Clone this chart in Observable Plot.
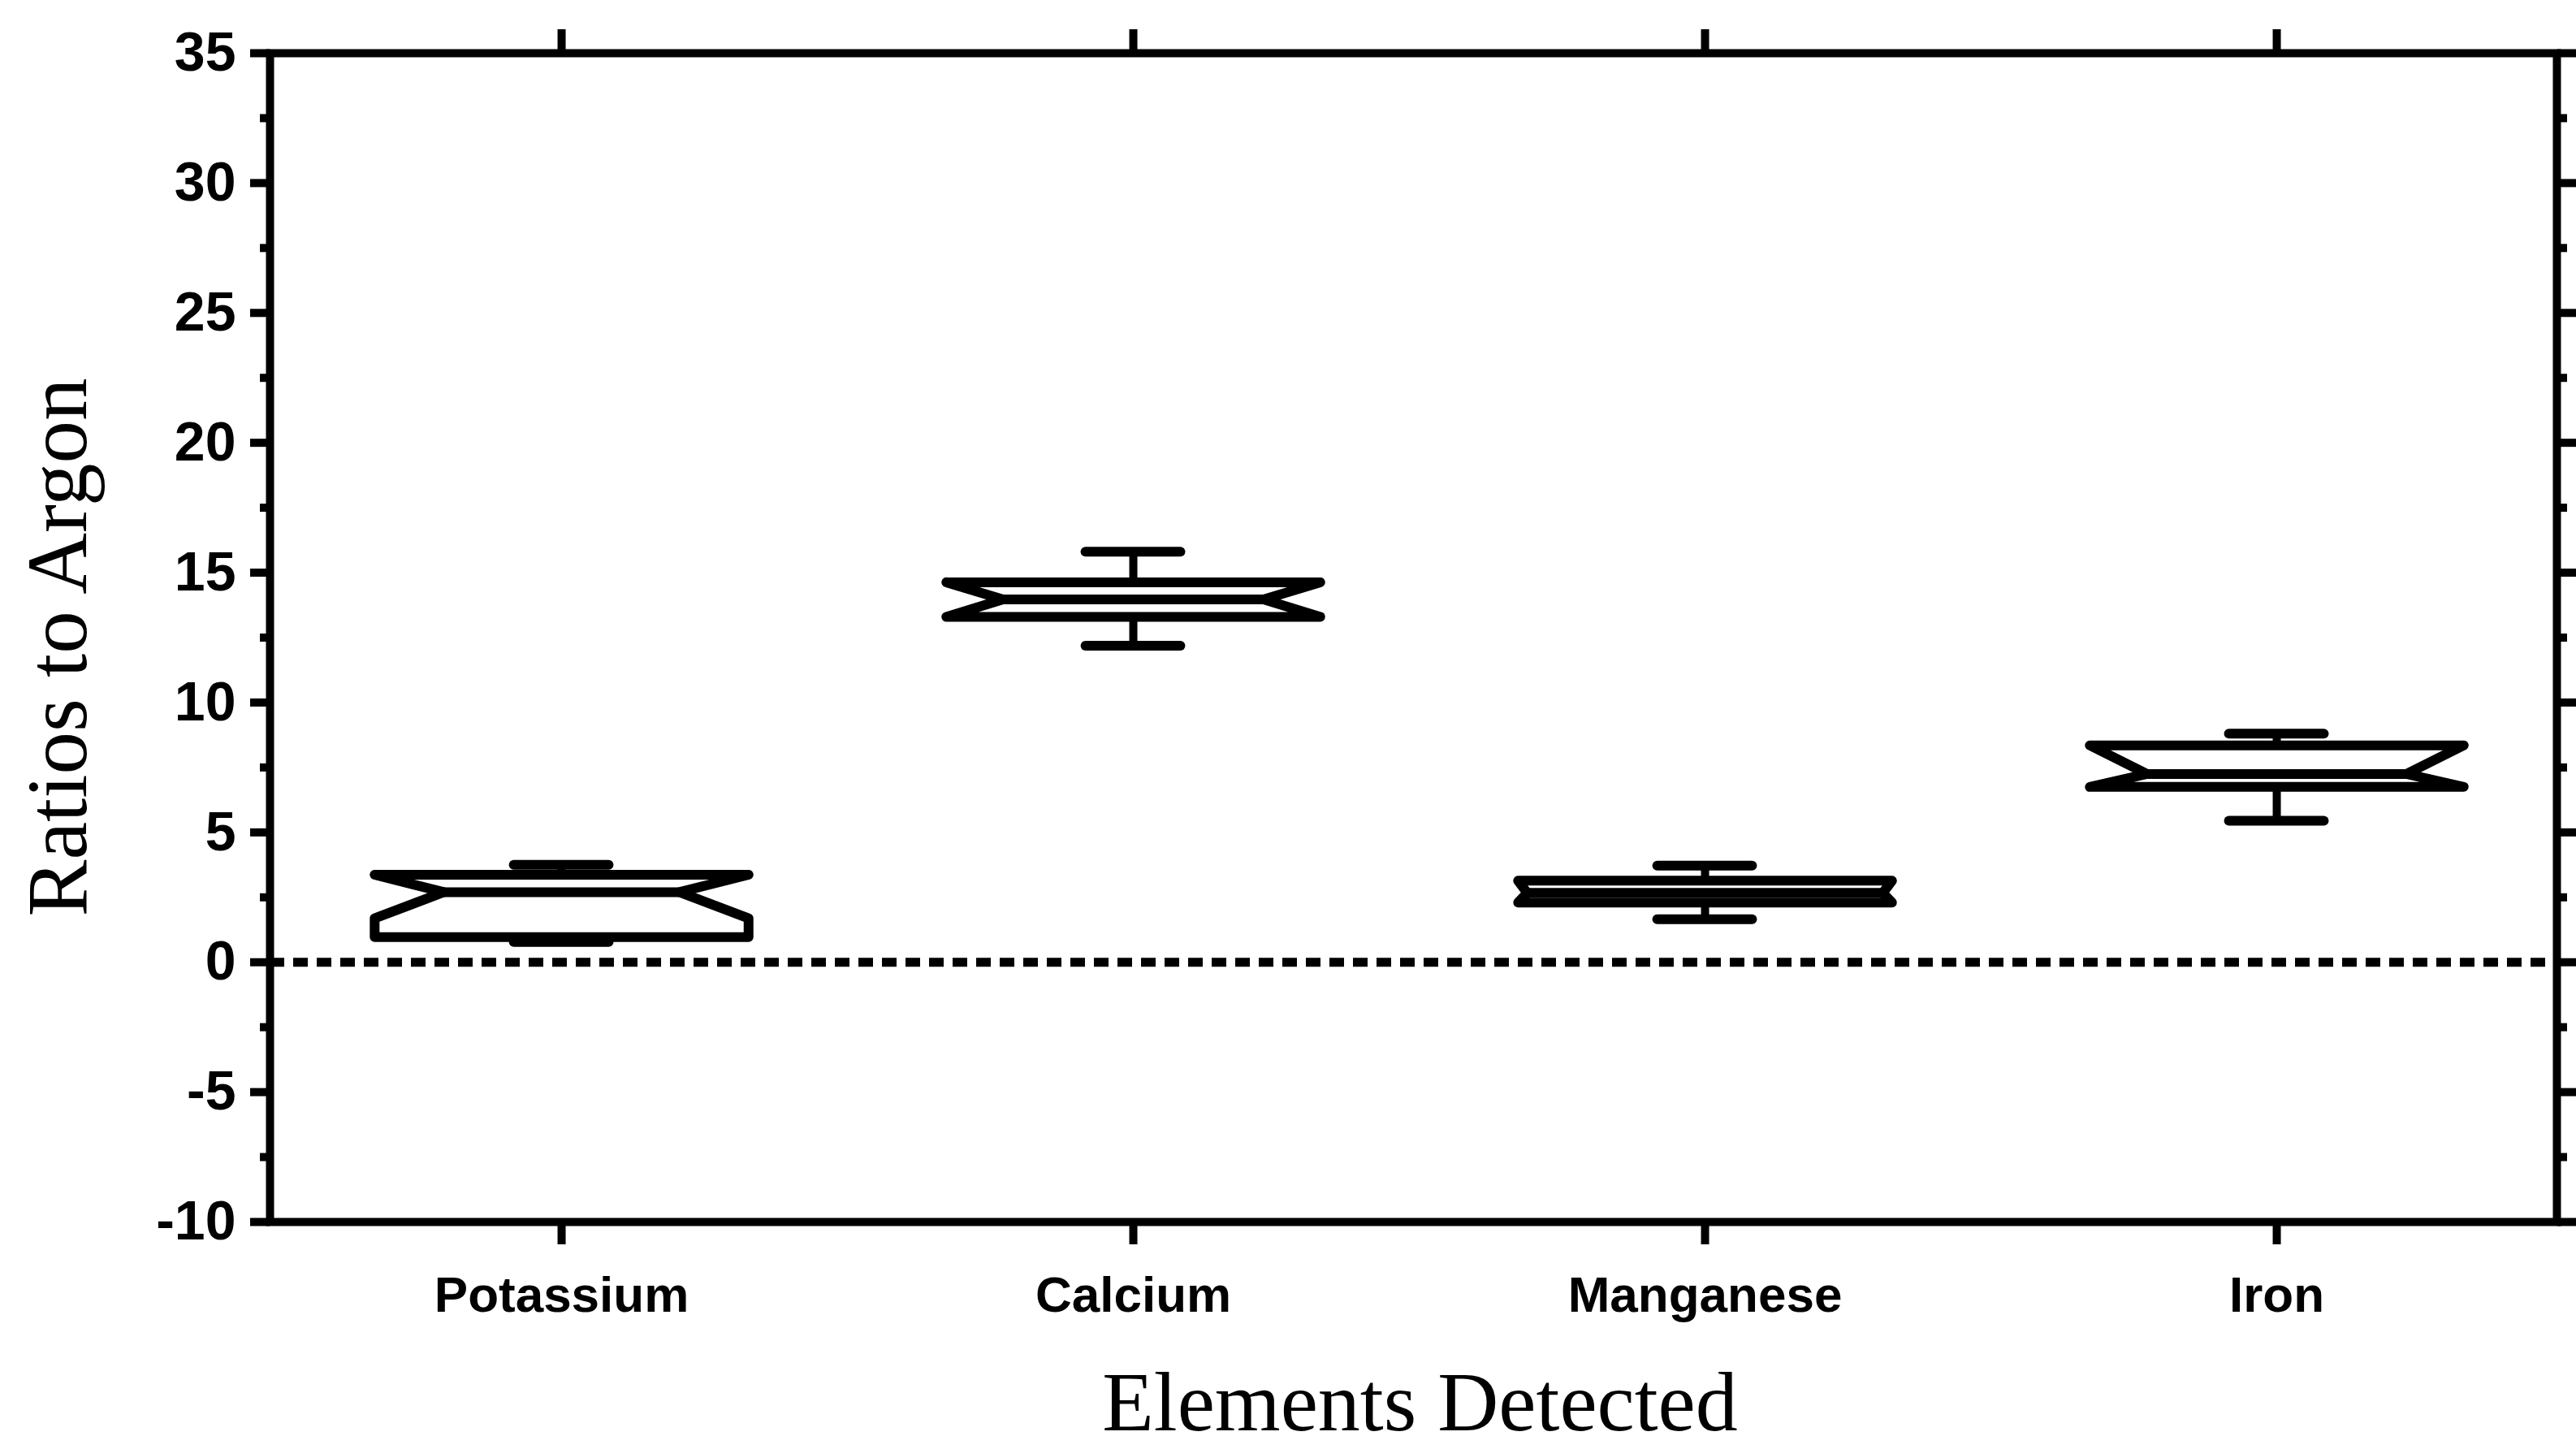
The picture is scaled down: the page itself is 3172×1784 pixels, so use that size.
<!DOCTYPE html>
<html>
<head>
<meta charset="utf-8">
<script src="https://cdn.jsdelivr.net/npm/d3@7"></script>
<script src="https://cdn.jsdelivr.net/npm/@observablehq/plot@0.6"></script>
<style>
  html, body { margin: 0; padding: 0; background: #fff; }
</style>
</head>
<body>
<div id="chart"></div>
<script>
// ---- data ----
const categories  = ["Potassium", "Calcium", "Manganese", "Iron"];
const whiskerLow  = [0.78, 12.19, 1.66, 5.45];
const q1          = [0.97, 13.30, 2.30, 6.75];
const notchLow    = [1.69, 13.30, 2.30, 6.75];
const median      = [2.70, 13.97, 2.67, 7.25];
const notchHigh   = [3.37, 14.63, 3.14, 8.35];
const q3          = [3.37, 14.63, 3.14, 8.35];
const whiskerHigh = [3.75, 15.81, 3.72, 8.80];
const yMajorTicks = [-10, -5, 0, 5, 10, 15, 20, 25, 30, 35];
const yMinorTicks = [-7.5, -2.5, 2.5, 7.5, 12.5, 17.5, 22.5, 27.5, 32.5];
const referenceLine = [0];
const xTitle = "Elements Detected";
const yTitle = "Ratios to Argon";

// ---- style constants ----
const BOX_HALF = 0.327;             // half box width, in category units
const NOTCH_DEPTH = [0.121, 0.099, 0.016, 0.10];
const CAP_HALF = 0.083;
const BOX_STROKE = 12;
const SANS = "'Liberation Sans', Arial, Helvetica, sans-serif";
const SERIF = "'Liberation Serif', 'Times New Roman', Times, serif";

const positions = categories.map((_, i) => i + 1);
const boxes = categories.map((name, i) => ({
  name, x: positions[i],
  wl: whiskerLow[i], q1: q1[i], nl: notchLow[i], med: median[i],
  nh: notchHigh[i], q3: q3[i], wh: whiskerHigh[i], depth: NOTCH_DEPTH[i]
}));

// notched outline of each box, built from the values above
const outline = boxes.flatMap(b => {
  const l = b.x - BOX_HALF, r = b.x + BOX_HALF;
  const li = l + b.depth, ri = r - b.depth;
  const pts = [
    [l, b.q3], [l, b.nh], [li, b.med], [l, b.nl], [l, b.q1],
    [r, b.q1], [r, b.nl], [ri, b.med], [r, b.nh], [r, b.q3], [l, b.q3]
  ];
  return pts.map(([x, y]) => ({ name: b.name, x, y }));
});
const medianLines = boxes.map(b => ({
  name: b.name, x1: b.x - BOX_HALF + b.depth, x2: b.x + BOX_HALF - b.depth, y: b.med
}));

const chart = Plot.plot({
  width: 3172,
  height: 1784,
  marginTop: 65,
  marginLeft: 332,
  marginRight: 24,
  marginBottom: 280,
  x: { domain: [0.49, 4.49] },
  y: { domain: [-10, 35] },
  style: { background: "#fff", fontFamily: SANS, fontWeight: "bold", overflow: "visible", color: "black" },
  marks: [
    // dotted zero reference line
    Plot.ruleY(referenceLine, { stroke: "black", strokeWidth: 11, strokeDasharray: "18 11" }),
    // whisker stems
    Plot.ruleX(boxes, { x: "x", y1: "q3", y2: "wh", stroke: "black", strokeWidth: 10 }),
    Plot.ruleX(boxes, { x: "x", y1: "q1", y2: "wl", stroke: "black", strokeWidth: 10 }),
    // whisker caps
    Plot.ruleY(boxes, { y: "wh", x1: d => d.x - CAP_HALF, x2: d => d.x + CAP_HALF, stroke: "black", strokeWidth: BOX_STROKE, strokeLinecap: "round" }),
    Plot.ruleY(boxes, { y: "wl", x1: d => d.x - CAP_HALF, x2: d => d.x + CAP_HALF, stroke: "black", strokeWidth: BOX_STROKE, strokeLinecap: "round" }),
    // notched boxes
    Plot.line(outline, { x: "x", y: "y", z: "name", stroke: "black", strokeWidth: BOX_STROKE, strokeLinejoin: "round", strokeLinecap: "round", fill: "none" }),
    Plot.ruleY(medianLines, { y: "y", x1: "x1", x2: "x2", stroke: "black", strokeWidth: BOX_STROKE }),
    // frame
    Plot.frame({ stroke: "black", strokeWidth: 10 }),
    // left axis
    Plot.axisY({ anchor: "left", ticks: yMajorTicks, tickSize: 24, tickPadding: 18, strokeWidth: 10,
      tickFormat: d => String(d), fontSize: 68, fontWeight: "bold", fontFamily: SANS, label: null }),
    Plot.axisY({ anchor: "left", ticks: yMinorTicks, tickSize: 12, strokeWidth: 10, tickFormat: () => "", label: null }),
    // right axis
    Plot.axisY({ anchor: "right", ticks: yMajorTicks, tickSize: 24, strokeWidth: 10, tickFormat: () => "", label: null }),
    Plot.axisY({ anchor: "right", ticks: yMinorTicks, tickSize: 12, strokeWidth: 10, tickFormat: () => "", label: null }),
    // bottom axis with category names
    Plot.axisX({ anchor: "bottom", ticks: positions, tickSize: 28, tickPadding: 38, strokeWidth: 10,
      tickFormat: d => categories[d - 1], fontSize: 62, fontWeight: "bold", fontFamily: SANS, label: null }),
    // top axis ticks
    Plot.axisX({ anchor: "top", ticks: positions, tickSize: 30, strokeWidth: 10, tickFormat: () => "", label: null }),
    // axis titles
    Plot.text([yTitle], { frameAnchor: "left", text: d => d, rotate: -90, dx: -227, dy: 12,
      lineAnchor: "bottom", textAnchor: "middle", fontSize: 105, fontFamily: SERIF, fontWeight: "normal", fill: "black" }),
    Plot.text([xTitle], { frameAnchor: "bottom", text: d => d, dx: 8, dy: 256,
      lineAnchor: "bottom", textAnchor: "middle", fontSize: 104, fontFamily: SERIF, fontWeight: "normal", fill: "black" })
  ]
});

document.getElementById("chart").append(chart);
</script>
</body>
</html>
